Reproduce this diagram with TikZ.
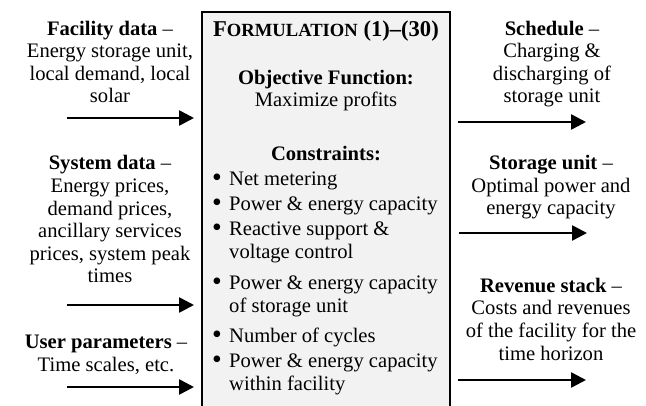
\documentclass[tikz,border=0pt]{standalone}
\usepackage{fontspec}
\setmainfont{Liberation Serif}
\usetikzlibrary{arrows.meta}
\definecolor{panelgray}{HTML}{F2F2F2}
\newcommand{\bul}{\makebox[17pt][l]{\raisebox{-0.3pt}{\scalebox{1.35}{\textbullet}}}}
\newcommand{\hang}{\hspace*{17pt}}
\begin{document}
% multi-line nodes are placed by the baseline of their last line
\begin{tikzpicture}[x=1pt,y=-1pt,
  txt/.style={font=\fontsize{20.6}{22.6}\selectfont, align=center, inner sep=0pt, anchor=base},
  lst/.style={font=\fontsize{20.6}{23}\selectfont, align=left, inner sep=0pt, anchor=base west},
  flow/.style={line width=2.6pt, -{Triangle[length=15pt,width=15pt]}},
  panel/.style={draw, line width=2.4pt, fill=panelgray}]
\useasboundingbox (0,0) rectangle (646,406);

% central formulation panel, open at the bottom
\draw[panel] (202,430) -- (202,12) -- (450,12) -- (450,430);

\node[txt] (title) at (326,37) {\fontsize{22.6}{24}\selectfont\textbf{F{\fontsize{18.6}{20}\selectfont ORMULATION} (1)--(30)}};
\node[txt] (obj) at (326,107) {\textbf{Objective Function:}\\Maximize profits};
\node[txt] (cons) at (326,161) {\textbf{Constraints:}};
\node[lst] (c1) at (212,186) {\bul Net metering};
\node[lst] (c2) at (212,211) {\bul Power \& energy capacity};
\node[lst] (c3) at (212,259) {\bul Reactive support \&\\\hang voltage control};
\node[lst] (c4) at (212,313) {\bul Power \& energy capacity\\\hang of storage unit};
\node[lst] (c5) at (212,343) {\bul Number of cycles};
\node[lst] (c6) at (212,391) {\bul Power \& energy capacity\\\hang within facility};

% inputs
\node[txt] (fac) at (110,103) {\textbf{Facility data} --\\Energy storage unit,\\local demand, local\\solar};
\node[txt] (sys) at (110,283) {\textbf{System data} --\\Energy prices,\\demand prices,\\ancillary services\\prices, system peak\\times};
\node[txt] (usr) at (106,371) {\textbf{User parameters} --\\Time scales, etc.};

\coordinate (fa) at (67,118);  \coordinate (fb) at (194,118);
\coordinate (sa) at (67,305);  \coordinate (sb) at (194,305);
\coordinate (ua) at (67,387);  \coordinate (ub) at (194,387);
\draw[flow] (fa) -- (fb);
\draw[flow] (sa) -- (sb);
\draw[flow] (ua) -- (ub);

% outputs
\node[txt] (sch) at (552,103) {\textbf{Schedule} --\\Charging \&\\discharging of\\storage unit};
\node[txt] (sto) at (551,215) {\textbf{Storage unit} --\\Optimal power and\\energy capacity};
\node[txt] (rev) at (551,360) {\textbf{Revenue stack} --\\Costs and revenues\\of the facility for the\\time horizon};

\coordinate (sca) at (458,122); \coordinate (scb) at (586,122);
\coordinate (sta) at (459,233); \coordinate (stb) at (587,233);
\coordinate (rva) at (458,380); \coordinate (rvb) at (586,380);
\draw[flow] (sca) -- (scb);
\draw[flow] (sta) -- (stb);
\draw[flow] (rva) -- (rvb);
\end{tikzpicture}
\end{document}
